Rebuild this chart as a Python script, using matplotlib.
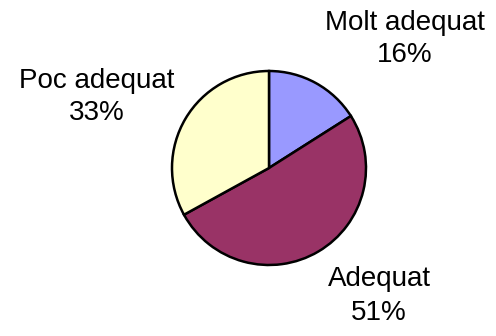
import matplotlib
matplotlib.use('Agg')
from matplotlib import pyplot as plt

labels = ['Molt adequat', 'Adequat', 'Poc adequat']
values = [16, 51, 33]
colors = ['#9999FF', '#993366', '#FFFFCC']

# label centres in pixel coords (origin bottom-left)
label_pos = [(405, 297), (379, 40), (97, 239)]

plt.rcParams['font.family'] = ['Liberation Sans', 'DejaVu Sans']

fig = plt.figure(figsize=(4.96, 3.36), dpi=100)
ax = fig.add_axes([0, 0, 1, 1])

ax.pie(values, colors=colors, startangle=90, counterclock=False,
       center=(269, 168), radius=97,
       wedgeprops=dict(edgecolor='black', linewidth=1.8))

total = sum(values)
for name, v, (x, y) in zip(labels, values, label_pos):
    ax.text(x, y, f'{name}\n{round(100 * v / total)}%', ha='center', va='center',
            fontsize=20, linespacing=1.35)

ax.set_xlim(0, 496)
ax.set_ylim(0, 336)
ax.set_aspect('equal')
ax.axis('off')

fig.savefig('out.png', dpi=100)
